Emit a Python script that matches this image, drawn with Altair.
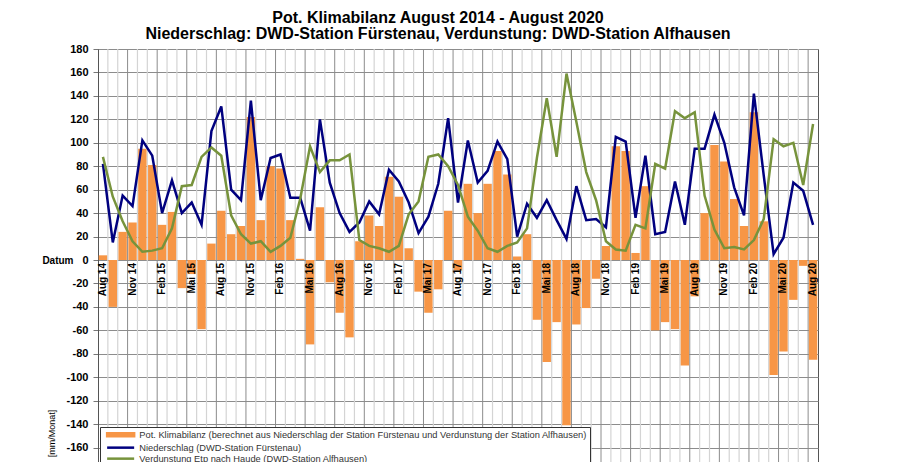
import altair as alt
import pandas as pd

# ---- data ----
month_names = ["Aug", "Sep", "Okt", "Nov", "Dez", "Jan", "Feb", "Mär", "Apr", "Mai", "Jun", "Jul"]
start_year = 14
n_months = 73

tick_labels = ["Aug 14", "Nov 14", "Feb 15", "Mai 15", "Aug 15", "Nov 15", "Feb 16", "Mai 16",
               "Aug 16", "Nov 16", "Feb 17", "Mai 17", "Aug 17", "Nov 17", "Feb 18", "Mai 18",
               "Aug 18", "Nov 18", "Feb 19", "Mai 19", "Aug 19", "Nov 19", "Feb 20", "Mai 20", "Aug 20"]

klimabilanz = [4, -40, 24, 32, 95, 81, 30, 41, -24, -12, -59, 14, 42, 22, 29, 122, 34, 80, 78, 34,
               1, -72, 45, -19, -45, -66, 16, 38, 29, 71, 54, 10, -27, -45, -25, 42, -9, 65, 40, 65,
               93, 73, 3, 22, -51, -87, -53, -141, -55, -41, -16, 12, 97, 93, 6, 63, -60, -53, -59, -90,
               -31, 40, 98, 84, 52, 29, 126, 33, -98, -78, -34, -5, -85]

niederschlag = [82, 15, 55, 46, 102, 89, 40, 68, 40, 49, 30, 110, 131, 60, 51, 136, 51, 87, 90, 53,
                53, 25, 120, 66, 40, 24, 32, 50, 39, 77, 67, 49, 23, 37, 65, 121, 49, 102, 66, 76,
                101, 86, 20, 48, 36, 51, 34, 18, 63, 34, 35, 28, 105, 101, 36, 89, 22, 24, 67, 30,
                95, 95, 124, 100, 62, 38, 142, 72, 5, 19, 66, 59, 30]

verdunstung = [88, 54, 33, 16, 7, 8, 10, 27, 63, 64, 88, 96, 89, 38, 22, 14, 16, 7, 12, 19,
               52, 97, 75, 85, 85, 90, 17, 12, 10, 7, 12, 39, 50, 88, 90, 80, 64, 37, 25, 10,
               7, 12, 15, 27, 87, 138, 88, 159, 118, 75, 51, 16, 9, 8, 30, 27, 82, 78, 127, 121,
               126, 55, 26, 10, 11, 9, 17, 35, 103, 97, 100, 64, 116]

series_names = [
    "Pot. Klimabilanz (berechnet aus Niederschlag der Station Fürstenau und Verdunstung der Station Alfhausen)",
    "Niederschlag (DWD-Station Fürstenau)",
    "Verdunstung Etp nach Haude (DWD-Station Alfhausen)",
]
series_colors = ["#F79646", "#00007F", "#77933C"]

# ---- tables ----
months = []
for i in range(n_months):
    yr = start_year + (i + 7) // 12
    months.append(f"{month_names[i % 12]} {yr}")

bars_df = pd.DataFrame({"m": months, "val": klimabilanz, "series": series_names[0]})
lines_df = pd.concat([
    pd.DataFrame({"m": months, "val": niederschlag, "series": series_names[1]}),
    pd.DataFrame({"m": months, "val": verdunstung, "series": series_names[2]}),
])
light_df = pd.DataFrame({"m": [m for i, m in enumerate(months) if i > 0 and i % 3 != 0]})
dark_df = pd.DataFrame({"m": [m for i, m in enumerate(months) if i > 0 and i % 3 == 0]})
ticks_df = pd.DataFrame({"m": tick_labels, "val": 0})

xscale = alt.Scale(domain=months, paddingInner=0, paddingOuter=0)
yscale = alt.Scale(domain=[-180, 180], nice=False, zero=False)

xaxis = alt.Axis(labels=False, ticks=False, domain=False, grid=False, title="Datum",
                 titleX=-25, titleY=-211, titleAlign="right", titleBaseline="middle",
                 titleFontWeight="bold", titleFontSize=10, titleColor="black")
yaxis = alt.Axis(values=list(range(-180, 181, 20)), grid=True, gridColor="#8c8c8c",
                 labelExpr="'' + datum.value", labelOverlap=False,
                 labelFontWeight="bold", labelFontSize=11, labelColor="black",
                 tickSize=5, tickColor="#777777", domainColor="#555555", labelPadding=5,
                 title="[mm/Monat]", titleAngle=270, titleX=-47, titleY=384,
                 titleFontSize=9, titleFontWeight="normal", titleAlign="center",
                 titleBaseline="middle", titleColor="black")

bar_symbol = "M-5.4,-0.6H5.4V0.6H-5.4Z"
line_symbol = "M-5.4,0H5.4"

color = alt.Color(
    "series:N",
    scale=alt.Scale(domain=series_names, range=series_colors),
    legend=alt.Legend(
        title=None, orient="none", legendX=2, legendY=378, direction="vertical",
        symbolType=alt.ExprRef(expr="datum.value === '" + series_names[0] + "' ? '"
                               + bar_symbol + "' : '" + line_symbol + "'"),
        symbolSize=25, symbolOffset=13, symbolStrokeWidth=2.5,
        symbolStrokeColor=alt.ExprRef(expr="scale('color', datum.value)"),
        symbolFillColor=alt.ExprRef(expr="scale('color', datum.value)"),
        labelFontSize=9.3, labelColor="#333333", labelLimit=0, labelOffset=14,
        padding=3, rowPadding=0, fillColor="white", strokeColor="#333333",
    ),
)

light = alt.Chart(light_df).mark_rule(color="#d4d4d4", strokeWidth=1.2).encode(
    x=alt.X("m:N", bandPosition=0, scale=xscale, axis=xaxis)
)
dark = alt.Chart(dark_df).mark_rule(color="#8c8c8c", strokeWidth=1).encode(
    x=alt.X("m:N", bandPosition=0, scale=xscale, axis=xaxis)
)

bars = alt.Chart(bars_df).mark_bar(width=alt.RelativeBandSize(0.85)).encode(
    x=alt.X("m:N", scale=xscale, axis=xaxis),
    y=alt.Y("val:Q", scale=yscale, axis=yaxis),
    color=color,
)

lines = alt.Chart(lines_df).mark_line(strokeWidth=2.5).encode(
    x=alt.X("m:N", scale=xscale, axis=xaxis),
    y=alt.Y("val:Q", scale=yscale, axis=yaxis),
    color=color,
    detail="series:N",
)

labels = alt.Chart(ticks_df).mark_text(
    angle=270, align="right", baseline="middle", dx=-3,
    fontWeight="bold", fontSize=10, color="black",
).encode(
    x=alt.X("m:N", scale=xscale, axis=xaxis),
    y=alt.Y("val:Q", scale=yscale, axis=yaxis),
    text="m:N",
)

chart = alt.layer(light, dark, bars, lines, labels).properties(
    width=720, height=422,
    autosize=alt.AutoSizeParams(type="none"),
    padding={"left": 90, "top": 41, "right": 85, "bottom": -9},
    title=alt.TitleParams(
        text=["Pot. Klimabilanz August 2014 - August 2020",
              "Niederschlag: DWD-Station Fürstenau, Verdunstung: DWD-Station Alfhausen"],
        fontSize=16, fontWeight="bold", anchor="middle", dx=-20, offset=1,
        lineHeight=16, color="black", frame="group",
    ),
).configure(font="Liberation Sans").configure_view(stroke="#555555", strokeWidth=1)

chart.save("out.html", embed_options={"renderer": "svg", "actions": False})
